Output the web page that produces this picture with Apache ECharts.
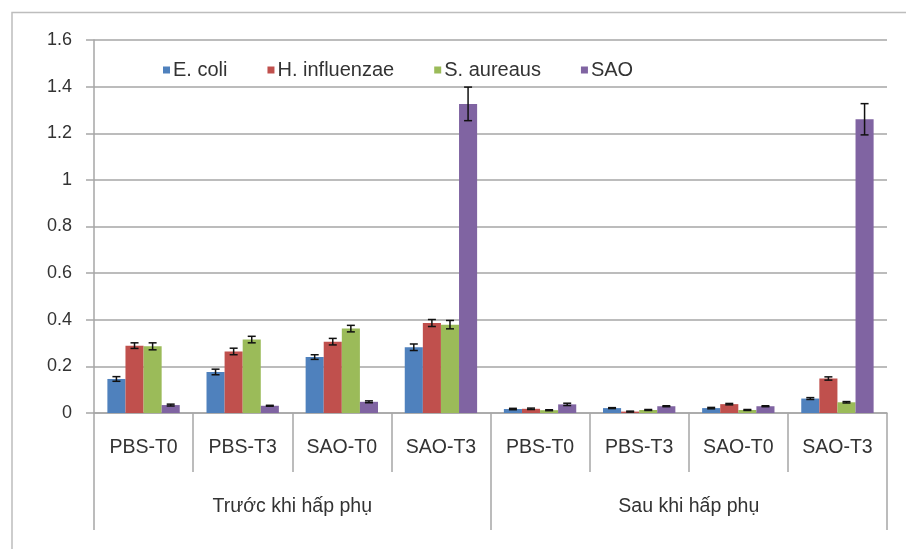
<!DOCTYPE html>
<html>
<head>
<meta charset="utf-8">
<script src="https://cdn.jsdelivr.net/npm/echarts@6/dist/echarts.min.js"></script>
<style>html,body{margin:0;padding:0;background:#fff}#c{width:906px;height:549px}</style>
</head>
<body>
<div id="c"></div>
<script>
const categories = ['PBS-T0','PBS-T3','SAO-T0','SAO-T3','PBS-T0','PBS-T3','SAO-T0','SAO-T3'];
const groups = ['Trước khi hấp phụ','Sau khi hấp phụ'];
const seriesNames = ['E. coli','H. influenzae','S. aureaus','SAO'];
const ecoli = [0.146,0.176,0.240,0.282,0.017,0.021,0.021,0.062];
const ecoliErr = [0.010,0.012,0.010,0.014,0.003,0.002,0.003,0.004];
const hinf = [0.289,0.264,0.306,0.386,0.018,0.006,0.038,0.148];
const hinfErr = [0.012,0.014,0.014,0.015,0.003,0.002,0.003,0.007];
const saur = [0.286,0.315,0.362,0.379,0.012,0.013,0.013,0.046];
const saurErr = [0.015,0.014,0.014,0.018,0.002,0.002,0.002,0.003];
const sao = [0.034,0.031,0.048,1.326,0.037,0.029,0.029,1.260];
const saoErr = [0.004,0.002,0.004,0.072,0.005,0.002,0.002,0.067];
const yTicks = {min:0, max:1.6, interval:0.2};

const values = [ecoli,hinf,saur,sao];
const errs = [ecoliErr,hinfErr,saurErr,saoErr];
const colors = ['#4F81BD','#C0504D','#9BBB59','#8064A2'];
const GAP = 0.27;
const font = "'Liberation Sans', Arial, sans-serif";
const textColor = '#333333';
const lineColor = '#A6A6A6';

const chart = echarts.init(document.getElementById('c'), null, {renderer:'canvas'});
const series = [];
values.forEach((vals, i) => {
  series.push({
    name: seriesNames[i], type:'bar', data: vals, barGap:'0%', barCategoryGap:(GAP*100)+'%',
    itemStyle:{color:colors[i]}, animation:false, z:2
  });
});
values.forEach((vals, i) => {
  series.push({
    type:'custom', animation:false, z:5, silent:true,
    data: vals.map((v, k) => [k, v, errs[i][k]]),
    renderItem: function(params, api){
      const x = api.value(0), v = api.value(1), e = api.value(2);
      const c = api.coord([x, v]);
      const catW = api.size([1,0])[0];
      const bw = catW*(1-GAP)/4;
      const cx = c[0] + (i-1.5)*bw;
      const top = api.coord([x, v+e])[1];
      const bot = api.coord([x, Math.max(v-e,0)])[1];
      const cap = 4;
      const st = {stroke:'#111', lineWidth:1.5};
      return {type:'group', children:[
        {type:'line', shape:{x1:cx,y1:top,x2:cx,y2:bot}, style:st},
        {type:'line', shape:{x1:cx-cap,y1:top,x2:cx+cap,y2:top}, style:st},
        {type:'line', shape:{x1:cx-cap,y1:bot,x2:cx+cap,y2:bot}, style:st}
      ]};
    }
  });
});

chart.setOption({
  backgroundColor:'#fff',
  animation:false,
  textStyle:{fontFamily:font},
  grid:{left:94, right:19, top:40, bottom:136, containLabel:false},
  legend:{
    data: seriesNames, left:158, top:55, itemWidth:7, itemHeight:7, itemGap:40,
    icon:'rect', textStyle:{fontFamily:font, fontSize:20, color:textColor, padding:[0,0,0,-2]}
  },
  graphic:[
    {type:'polyline', shape:{points:[[12,549],[12,12.5],[906,12.5]]}, style:{stroke:'#BDBDBD', lineWidth:1.5, fill:null}}
  ],
  xAxis:[
    {type:'category', data:categories, position:'bottom',
     axisLine:{show:true, lineStyle:{color:lineColor, width:1.5}},
     axisTick:{show:true, interval:0, length:59, lineStyle:{color:lineColor, width:1.5}},
     axisLabel:{interval:0, margin:25, fontSize:19.5, color:textColor, fontFamily:font},
     splitLine:{show:false}},
    {type:'category', data:groups, position:'bottom', offset:0,
     axisLine:{show:false},
     axisTick:{show:true, interval:0, length:117, lineStyle:{color:lineColor, width:1.5}},
     axisLabel:{interval:0, margin:84, fontSize:19.5, color:textColor, fontFamily:font},
     splitLine:{show:false}}
  ],
  yAxis:{type:'value', min:yTicks.min, max:yTicks.max, interval:yTicks.interval,
    axisLine:{show:true, lineStyle:{color:lineColor, width:1.5}},
    axisTick:{show:true, length:8, lineStyle:{color:lineColor, width:1.5}},
    axisLabel:{margin:22, fontSize:18, color:textColor, fontFamily:font},
    splitLine:{show:true, lineStyle:{color:lineColor, width:1.5}}},
  series: series
});
</script>
</body>
</html>
